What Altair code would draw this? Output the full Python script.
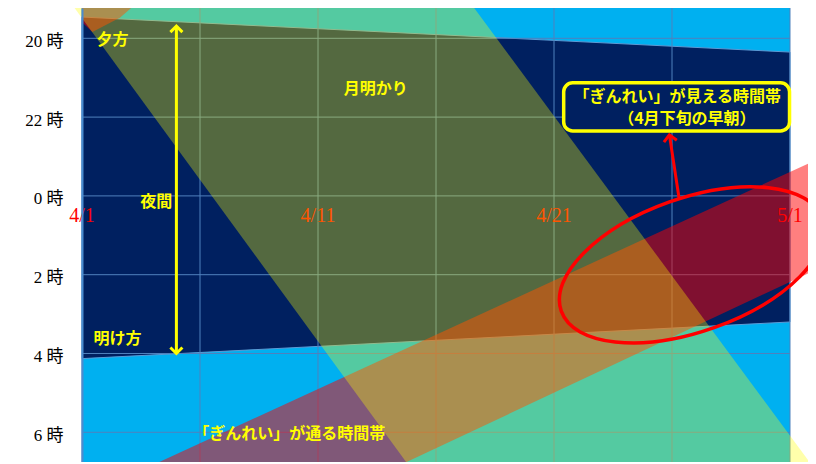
import altair as alt
import pandas as pd

# ---------------- data (x: days after 4/1, y: hours after 18:00) ----------------
date_days = [0, 10, 20, 30]
date_labels = ["4/1", "4/11", "4/21", "5/1"]
date_label_h = [6.5, 6.5, 6.5, 6.5]
grid_days = [0, 5, 10, 15, 20, 25, 30]
hour_vals = [2, 4, 6, 8, 10, 12]
hour_labels = ["20 時", "22 時", "0 時", "2 時", "4 時", "6 時"]

# night (dark) period: end of dusk / start of dawn
night_days = [0, 30]
dusk_h = [1.46, 2.35]
dawn_h = [10.13, 9.20]

# moonlight band (edges read at two times)
moon_h = [1.03, 12.80]
moon_left = [-0.56, 13.79]
moon_right = [16.37, 30.88]

# "ぎんれい" passing band
pass_days = [3.0, 31.5]
pass_upper = [12.83, 4.98]
pass_lower = [15.78, 7.76]

# previous passing band (top-left corner)
prev_days = [0.0, 0.44, 1.62, 2.47]
prev_upper = [0.9, 0.9, 0.9, 0.9]
prev_lower = [1.59, 1.84, 1.47, 1.03]

# annotations
note_texts = ["夕方", "夜間", "明け方", "月明かり", "「ぎんれい」が通る時間帯"]
note_x = [1.29, 3.15, 1.50, 12.45, 8.78]
note_y = [2.04, 6.16, 9.62, 3.29, 12.04]

box_x, box_x2, box_y, box_y2 = [20.41], [29.98], [3.13], [4.35]
box_texts = ["「ぎんれい」が見える時間帯", "（4月下旬の早朝）"]
box_tx = [25.22, 25.63]
box_ty = [3.50, 4.05]

ellipse_x, ellipse_y = [25.84], [7.75]
red_arrow_x, red_arrow_y = [25.31], [6.10]
red_arrow_x2, red_arrow_y2 = [24.89], [4.45]
night_arrow_x, night_arrow_top, night_arrow_bottom = [4.0], [1.69], [10.0]

Y_TOP, Y_BOT = 1.231, 12.754

# ---------------- scales / helpers ----------------
xs = alt.Scale(domain=[0, 30], nice=False, zero=False)
ys = alt.Scale(domain=[Y_TOP, Y_BOT], reverse=True, nice=False, zero=False)

vals_js = "[" + ",".join(str(v) for v in hour_vals) + "]"
labs_js = "[" + ",".join("'" + s + "'" for s in hour_labels) + "]"
yaxis = alt.Axis(
    values=hour_vals, labelExpr=f"{labs_js}[indexof({vals_js}, datum.value)]",
    title="", grid=False, ticks=False, tickSize=0, domain=True,
    domainColor="#4A8CD0", domainWidth=2, labelFont="Liberation Serif, Noto Sans CJK JP",
    labelFontSize=17, labelColor="#000000", labelPadding=19, labelOffset=3,
    labelBaseline="middle", zindex=1,
)


def X(f):
    return alt.X(f, type="quantitative", scale=xs, axis=None)


def Y(f):
    return alt.Y(f, type="quantitative", scale=ys, axis=yaxis)


night = alt.Chart(pd.DataFrame({"x": night_days, "y": dusk_h, "y2": dawn_h})).mark_area(
    color="#002060", fillOpacity=1, stroke="#5B9BD5", strokeWidth=1
).encode(x=X("x"), y=Y("y"), y2="y2:Q")

vgrid = alt.Chart(pd.DataFrame({"x": grid_days})).mark_rule(
    color="#4F81BD", strokeWidth=1).encode(x=X("x"))
hgrid = alt.Chart(pd.DataFrame({"y": hour_vals})).mark_rule(
    color="#4F81BD", strokeWidth=1).encode(y=Y("y"))

dates = alt.Chart(pd.DataFrame({"x": date_days, "y": date_label_h, "t": date_labels})).mark_text(
    color="#FF0000", font="Liberation Serif", fontSize=20
).encode(x=X("x"), y=Y("y"), text="t:N")

prev_band = alt.Chart(pd.DataFrame({"x": prev_days, "y": prev_upper, "y2": prev_lower})).mark_area(
    color="#FF0000", fillOpacity=0.5).encode(x=X("x"), y=Y("y"), y2="y2:Q")

pass_band = alt.Chart(pd.DataFrame({"x": pass_days, "y": pass_upper, "y2": pass_lower})).mark_area(
    color="#FF0000", fillOpacity=0.5).encode(x=X("x"), y=Y("y"), y2="y2:Q")

moon = alt.Chart(pd.DataFrame({"y": moon_h, "x": moon_left, "x2": moon_right})).mark_area(
    color="#FFFF00", fillOpacity=0.33, orient="horizontal"
).encode(y=Y("y"), x=X("x"), x2="x2:Q")

jp = dict(font="Noto Sans CJK JP", fontWeight="bold", fontSize=16, color="#FFFF00")

notes = alt.Chart(pd.DataFrame({"x": note_x, "y": note_y, "t": note_texts})).mark_text(**jp).encode(
    x=X("x"), y=Y("y"), text="t:N")

night_shaft = alt.Chart(pd.DataFrame({"x": night_arrow_x, "y": night_arrow_top, "y2": night_arrow_bottom})).mark_rule(
    color="#FFFF00", strokeWidth=3).encode(x=X("x"), y=Y("y"), y2="y2:Q")
chevron = "M -0.5 0.5 L 0 0 L 0.5 0.5"
night_head_top = alt.Chart(pd.DataFrame({"x": night_arrow_x, "y": night_arrow_top})).mark_point(
    shape=chevron, size=576, filled=False, stroke="#FFFF00", strokeWidth=3, opacity=1, angle=0
).encode(x=X("x"), y=Y("y"))
night_head_bot = alt.Chart(pd.DataFrame({"x": night_arrow_x, "y": night_arrow_bottom})).mark_point(
    shape=chevron, size=576, filled=False, stroke="#FFFF00", strokeWidth=3, opacity=1, angle=180
).encode(x=X("x"), y=Y("y"))

ellipse = alt.Chart(pd.DataFrame({"x": ellipse_x, "y": ellipse_y})).mark_point(
    shape="M -1 0 A 1 0.4816 0 1 1 1 0 A 1 0.4816 0 1 1 -1 0 Z", size=76729,
    angle=340.5, filled=False, stroke="#FF0000", strokeWidth=3.5, opacity=1
).encode(x=X("x"), y=Y("y"))

red_shaft = alt.Chart(pd.DataFrame({"x": red_arrow_x, "y": red_arrow_y,
                                    "x2": red_arrow_x2, "y2": red_arrow_y2})).mark_rule(
    color="#FF0000", strokeWidth=3).encode(x=X("x"), y=Y("y"), x2="x2:Q", y2="y2:Q")
red_head = alt.Chart(pd.DataFrame({"x": red_arrow_x2, "y": red_arrow_y2})).mark_point(
    shape=chevron, size=676, filled=False, stroke="#FF0000", strokeWidth=3, opacity=1, angle=351.3
).encode(x=X("x"), y=Y("y"))

box = alt.Chart(pd.DataFrame({"x": box_x, "x2": box_x2, "y": box_y, "y2": box_y2})).mark_rect(
    fill="#002060", stroke="#FFFF00", strokeWidth=3.5, cornerRadius=9, opacity=1
).encode(x=X("x"), x2="x2:Q", y=Y("y"), y2="y2:Q")
box_text = alt.Chart(pd.DataFrame({"x": box_tx, "y": box_ty, "t": box_texts})).mark_text(**jp).encode(
    x=X("x"), y=Y("y"), text="t:N")

chart = alt.layer(
    night, vgrid, hgrid, dates, prev_band, pass_band, moon,
    notes, night_shaft, night_head_top, night_head_bot,
    ellipse, red_shaft, red_head, box, box_text,
).properties(
    width=708, height=454,
    autosize=alt.AutoSizeParams(type="none"),
    padding={"left": 74, "top": 0, "right": 18, "bottom": 0},
).configure_view(fill="#00B0F0", strokeWidth=0)

chart.save("out.html", embed_options={"renderer": "svg", "actions": False})
